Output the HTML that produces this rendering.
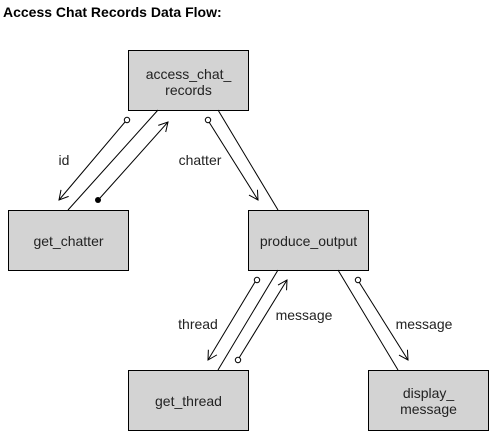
<!DOCTYPE html>
<html><head><meta charset="utf-8"><style>
html,body{margin:0;padding:0;background:#fff;width:489px;height:432px;overflow:hidden}
</style></head><body>
<svg width="489" height="432" xmlns="http://www.w3.org/2000/svg" font-family="Liberation Sans, Arial, sans-serif">
<defs>
<marker id="a" markerWidth="12" markerHeight="12" refX="10" refY="6" orient="auto" markerUnits="userSpaceOnUse">
<path d="M1,1 L10,6 L1,11" fill="none" stroke="#000" stroke-width="1"/>
</marker>
</defs>
<text x="3" y="17" font-size="14" font-weight="bold">Access Chat Records Data Flow:</text>
<g fill="#d3d3d3" stroke="#000" stroke-width="1">
<rect x="128.5" y="50.5" width="120" height="60"/>
<rect x="8.5" y="210.5" width="120" height="60"/>
<rect x="248.5" y="210.5" width="120" height="60"/>
<rect x="128.5" y="370.5" width="120" height="60"/>
<rect x="368.5" y="370.5" width="120" height="60"/>
</g>
<g font-size="14" text-anchor="middle" fill="#222">
<text x="188.5" y="79">access_chat_</text>
<text x="188.5" y="95">records</text>
<text x="68.5" y="246">get_chatter</text>
<text x="308.5" y="246">produce_output</text>
<text x="188.5" y="406">get_thread</text>
<text x="428.5" y="398">display_</text>
<text x="428.5" y="414">message</text>
<text x="64" y="165">id</text>
<text x="200" y="165">chatter</text>
<text x="198" y="329">thread</text>
<text x="304" y="320">message</text>
<text x="424" y="329">message</text>
</g>
<g stroke="#000" stroke-width="1" fill="none">
<line x1="158" y1="110" x2="68" y2="210"/>
<line x1="218" y1="110" x2="278" y2="210"/>
<line x1="278" y1="270" x2="218" y2="370"/>
<line x1="338" y1="270" x2="398" y2="370"/>
<line x1="125" y1="122" x2="59" y2="200" marker-end="url(#a)"/>
<line x1="100" y1="198" x2="168" y2="122" marker-end="url(#a)"/>
<line x1="209" y1="122" x2="258" y2="200" marker-end="url(#a)"/>
<line x1="255" y1="282" x2="208" y2="360" marker-end="url(#a)"/>
<line x1="239" y1="358" x2="287" y2="280" marker-end="url(#a)"/>
<line x1="359" y1="282" x2="408" y2="360" marker-end="url(#a)"/>
</g>
<g stroke="#000" stroke-width="1" fill="#fff">
<circle cx="127" cy="120" r="2.7"/>
<circle cx="208" cy="120" r="2.7"/>
<circle cx="257" cy="280" r="2.7"/>
<circle cx="238" cy="360" r="2.7"/>
<circle cx="358" cy="280" r="2.7"/>
</g>
<circle cx="98" cy="200" r="3" fill="#000"/>
</svg>
</body></html>
